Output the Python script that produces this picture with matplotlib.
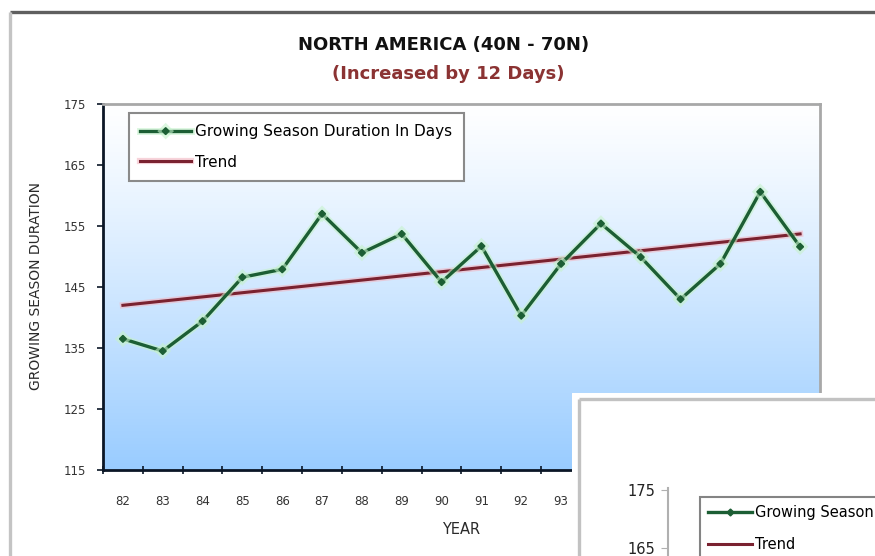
import numpy as np
import matplotlib
matplotlib.use("Agg")
import matplotlib.pyplot as plt
import matplotlib.patheffects as pe

plt.rcParams['font.family'] = ['DejaVu Sans']

# ---- data ----
years = ["82", "83", "84", "85", "86", "87", "88", "89", "90",
         "91", "92", "93", "94", "95", "96", "97", "98", "99"]
duration = [136.5, 134.5, 139.4, 146.6, 147.9, 157.0, 150.6, 153.7, 145.8,
            151.7, 140.3, 148.8, 155.4, 149.9, 143.0, 148.8, 160.6, 151.6]
trend_years = ["82", "99"]
trend_values = [142.0, 153.7]
y_ticks = [115, 125, 135, 145, 155, 165, 175]
inset_ticks = [175, 165]
title = "NORTH AMERICA (40N - 70N)"
subtitle = "(Increased by 12 Days)"
series_label = "Growing Season Duration In Days"
trend_label = "Trend"
ylabel = "GROWING SEASON DURATION"
xlabel = "YEAR"

W, H = 875, 556
fig = plt.figure(figsize=(W / 100, H / 100), dpi=100)
fig.patch.set_facecolor("white")


def rect(x0, y0, x1, y1):
    return [x0 / W, 1 - y1 / H, (x1 - x0) / W, (y1 - y0) / H]


def fx(x):
    return x / W


def fy(y):
    return 1 - y / H


# ---- background frame ----
bg = fig.add_axes([0, 0, 1, 1], zorder=0)
bg.set_xlim(0, W)
bg.set_ylim(H, 0)
bg.axis("off")
bg.plot([10, W], [12, 12], color="#5f5f5f", lw=2.4, solid_capstyle="butt")
bg.plot([10, 10], [12, H], color="#c4c4c4", lw=2.4, solid_capstyle="butt")

# ---- main chart ----
ax = fig.add_axes(rect(103, 104, 820, 470), zorder=2)
xpos = np.arange(len(years))
ax.set_xlim(-0.5, len(years) - 0.5)
ax.set_ylim(y_ticks[0], y_ticks[-1])

grad = np.linspace(0, 1, 256).reshape(-1, 1) ** 1.15
top_c = np.array([1.0, 1.0, 1.0])
bot_c = np.array([0x99, 0xCC, 0xFF]) / 255.0
img = top_c[None, None, :] * (1 - grad[:, :, None]) + bot_c[None, None, :] * grad[:, :, None]
ax.imshow(img, extent=[0, 1, 0, 1], transform=ax.transAxes, aspect="auto",
          zorder=0, origin="upper")

tx = [years.index(t) for t in trend_years]
ax.plot(tx, trend_values, color="#7a2230", lw=2.2, zorder=3, label=trend_label,
        path_effects=[pe.Stroke(linewidth=4.5, foreground="#f2b6c2", alpha=0.6), pe.Normal()])
ax.plot(xpos, duration, color="#1c5e34", lw=2.4, marker="D", markersize=3.5,
        markerfacecolor="#1c5e34", markeredgecolor="#1c5e34", zorder=4,
        label=series_label,
        path_effects=[pe.Stroke(linewidth=5, foreground="#c6f2cc", alpha=0.6), pe.Normal()])

for s in ["left", "bottom"]:
    ax.spines[s].set_color("#0b1626")
    ax.spines[s].set_linewidth(2.0)
for s in ["top", "right"]:
    ax.spines[s].set_color("#a8a8a8")
    ax.spines[s].set_linewidth(2.0)

ax.set_yticks(y_ticks)
ax.set_yticklabels([str(v) for v in y_ticks], fontsize=8.5, color="#333333")
ax.tick_params(axis="y", length=4, width=1.2, color="#0b1626", pad=8)
ax.set_xticks(xpos)
ax.set_xticklabels(years, fontsize=8.5, color="#333333")
ax.tick_params(axis="x", which="major", length=0, pad=18)
ax.set_xticks(np.arange(-0.5, len(years), 1), minor=True)
ax.tick_params(axis="x", which="minor", length=6, width=1.2, direction="inout",
               color="#0b1626")
# labels hidden behind the overlapping chart in the reference
for i, lab in enumerate(ax.get_xticklabels()):
    xp = ax.transData.transform((i, y_ticks[0]))[0]
    if xp > 575:
        lab.set_visible(False)

leg = ax.legend(handles=[ax.lines[1], ax.lines[0]], loc="upper left",
                bbox_to_anchor=((129 - 103) / 717, 1 - (113 - 104) / 366),
                fontsize=11, frameon=True, fancybox=False, borderpad=0.75,
                labelspacing=1.0, handlelength=3.3, handletextpad=0.3,
                borderaxespad=0)
leg.get_frame().set_edgecolor("#8a8a8a")
leg.get_frame().set_linewidth(1.5)
leg.get_frame().set_facecolor("white")
leg.get_frame().set_alpha(1)
leg.set_zorder(10)

fig.text(fx(36), fy(286), ylabel, rotation=90, ha="center", va="center",
         fontsize=10, color="#2a2a2a")
fig.text(fx(461), fy(530), xlabel, ha="center", va="center", fontsize=10.5,
         color="#2a2a2a")
fig.text(fx(444), fy(45), title, ha="center", va="center", fontsize=13,
         fontweight="bold", color="#111111")
fig.text(fx(448), fy(74), subtitle, ha="center", va="center", fontsize=13,
         fontweight="bold", color="#8b3333")

# ---- overlapping second chart (bottom right) ----
ov = fig.add_axes(rect(572, 393, W, H), zorder=5)
ov.set_xlim(572, W)
ov.set_ylim(H, 393)
ov.axis("off")
ov.add_patch(plt.Rectangle((572, 393), W - 572, H - 393, color="white", zorder=0))
ov.plot([579, W], [399, 399], color="#c2c2c2", lw=2.4, solid_capstyle="butt")
ov.plot([579, 579], [399, H], color="#c2c2c2", lw=2.4, solid_capstyle="butt")

ax2 = fig.add_axes(rect(668, 488, W + 40, H), zorder=6)
ax2.patch.set_alpha(0)
ax2.set_xlim(-0.5, len(years) - 0.5)
ax2.set_ylim(175 - (H - 490) / 5.8, 175 + 2 / 5.8)
ax2.plot(tx, trend_values, color="#7a2230", lw=2.2, label=trend_label)
ax2.plot(xpos, duration, color="#1c5e34", lw=2.4, marker="D", markersize=3.5,
         label=series_label)
for s in ["top", "right", "bottom"]:
    ax2.spines[s].set_visible(False)
ax2.spines["left"].set_color("#b0b0b0")
ax2.spines["left"].set_linewidth(1.5)
ax2.set_xticks([])
ax2.set_yticks(inset_ticks)
ax2.set_yticklabels([str(v) for v in inset_ticks], fontsize=10.5, color="#222222")
ax2.tick_params(axis="y", length=5, color="#b0b0b0", pad=4)
leg2 = ax2.legend(handles=[ax2.lines[1], ax2.lines[0]], loc="upper left",
                  bbox_to_anchor=((700 - 668) / (W + 40 - 668), 1 - (497 - 488) / (H - 488)),
                  fontsize=10.5, frameon=True, fancybox=False, borderpad=0.55,
                  labelspacing=1.15, handlelength=3.0, handletextpad=0.2,
                  borderaxespad=0)
leg2.get_frame().set_edgecolor("#666666")
leg2.get_frame().set_linewidth(1.5)
fig.text(fx(607), fy(542), ylabel, rotation=90, ha="center", va="top",
         fontsize=10, color="#333333")

fig.savefig("out.png", dpi=100)
